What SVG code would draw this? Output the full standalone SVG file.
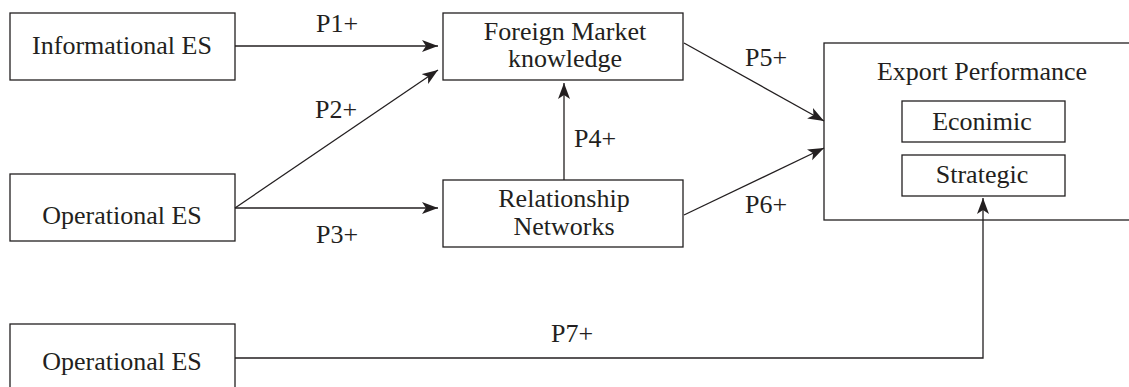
<svg xmlns="http://www.w3.org/2000/svg" width="1129" height="387" viewBox="0 0 1129 387">
<style>
.n{fill:#fff;stroke:#231f20;stroke-width:1.3}
text{font-family:"Liberation Serif","Times New Roman",serif;font-size:26px;fill:#231f20;text-anchor:middle}
.c{fill:none;stroke:#231f20;stroke-width:1.3}
</style>
<defs>
<marker id="ah" markerUnits="userSpaceOnUse" markerWidth="18" markerHeight="14" refX="16" refY="6" orient="auto">
<path d="M0,0 L16,6 L0,12 L4,6 z" fill="#231f20"/>
</marker>
</defs>
<rect width="1129" height="387" fill="#fff"/>
<g id="informational">
<rect class="n" x="10" y="13" width="225" height="67"/>
<text x="122" y="54">Informational ES</text>
</g>
<g id="operational1">
<rect class="n" x="10" y="174" width="225" height="67"/>
<text x="122" y="224">Operational ES</text>
</g>
<g id="operational2">
<rect class="n" x="10" y="324" width="225" height="80"/>
<text x="122" y="370">Operational ES</text>
</g>
<g id="foreign">
<rect class="n" x="443" y="13" width="240" height="67"/>
<text x="565" y="40">Foreign Market</text>
<text x="565" y="67">knowledge</text>
</g>
<g id="relationship">
<rect class="n" x="443" y="180" width="240" height="67"/>
<text x="564" y="207">Relationship</text>
<text x="564" y="235">Networks</text>
</g>
<g id="export">
<rect class="n" x="824" y="43" width="330" height="177"/>
<text x="982" y="80">Export Performance</text>
<g id="economic">
<rect class="n" x="902" y="101" width="163" height="41"/>
<text x="982" y="130">Econimic</text>
</g>
<g id="strategic">
<rect class="n" x="902" y="155" width="163" height="41"/>
<text x="982" y="183">Strategic</text>
</g>
</g>
<g id="connectors">
<line class="c" x1="235" y1="46" x2="438" y2="46" marker-end="url(#ah)"/>
<line class="c" x1="235" y1="208" x2="438" y2="70" marker-end="url(#ah)"/>
<line class="c" x1="235" y1="208" x2="438" y2="208" marker-end="url(#ah)"/>
<line class="c" x1="564" y1="180" x2="564" y2="83" marker-end="url(#ah)"/>
<line class="c" x1="684" y1="43" x2="824" y2="121" marker-end="url(#ah)"/>
<line class="c" x1="684" y1="215" x2="824" y2="148" marker-end="url(#ah)"/>
<polyline class="c" points="235,358 983,358 983,198" marker-end="url(#ah)"/>
<text x="337" y="32">P1+</text>
<text x="336" y="118">P2+</text>
<text x="337" y="243">P3+</text>
<text x="595" y="147">P4+</text>
<text x="766" y="66">P5+</text>
<text x="766" y="213">P6+</text>
<text x="572" y="342">P7+</text>
</g>
</svg>
